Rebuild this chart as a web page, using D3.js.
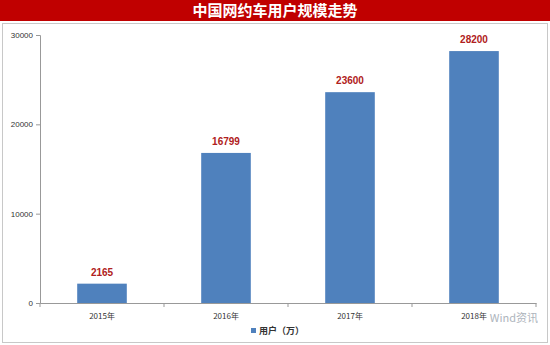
<!DOCTYPE html>
<html><head><meta charset="utf-8">
<script src="https://cdn.jsdelivr.net/npm/d3@7"></script>
<style>body{margin:0;background:#fff;}svg{display:block;}</style>
</head><body>
<script>
const title = "中国网约车用户规模走势";
const categories = ["2015年","2016年","2017年","2018年"];
const values = [2165, 16799, 23600, 28200];
const yTicks = [0, 10000, 20000, 30000];
const seriesName = "用户（万）";

const W = 550, H = 345;
const svg = d3.select("body").append("svg").attr("width", W).attr("height", H);

// title bar
svg.append("rect").attr("x",0).attr("y",0).attr("width",W).attr("height",21).attr("fill","#c00000");
svg.append("text").attr("x",W/2).attr("y",16).attr("text-anchor","middle")
  .attr("fill","#fff").attr("font-family","'Noto Sans CJK SC'").attr("font-weight","bold")
  .attr("font-size",15).text(title);

// chart border
svg.append("rect").attr("x",2.5).attr("y",23.5).attr("width",W-5).attr("height",H-26)
  .attr("fill","#fff").attr("stroke","#c8c8c8");

const x = d3.scaleBand().domain(categories).range([40, 536]).paddingInner(0.6).paddingOuter(0.3);
const y = d3.scaleLinear().domain([0, 30000]).range([303, 35]);

// y axis
const ya = svg.append("g").attr("transform","translate(40,0)")
  .call(d3.axisLeft(y).tickValues(yTicks).tickSize(4).tickFormat(d3.format("d")));
ya.selectAll("path,line").attr("stroke","#999");
ya.selectAll("text").attr("font-family","Arial, 'Liberation Sans'").attr("font-size",8).attr("fill","#333");

// bars
svg.selectAll(".bar").data(values).join("rect")
  .attr("x",(d,i)=>x(categories[i])).attr("width",x.bandwidth())
  .attr("y",d=>y(d)).attr("height",d=>y(0)-y(d)).attr("fill","#4f81bd");

// labels
svg.selectAll(".lbl").data(values).join("text")
  .attr("x",(d,i)=>x(categories[i])+x.bandwidth()/2).attr("y",d=>y(d)-8)
  .attr("text-anchor","middle").attr("fill","#b02020").attr("font-weight","bold")
  .attr("font-family","Arial, 'Liberation Sans'").attr("font-size",10).text(d=>d);

// x axis
const xs = d3.scaleBand().domain(categories).range([40,536]);
const xa = svg.append("g").attr("transform","translate(0,303)")
  .call(d3.axisBottom(xs).tickSize(0).tickPadding(10));
xa.select("path").attr("stroke","#999");
xa.selectAll("text").attr("font-family","'Noto Sans CJK SC'").attr("font-size",8).attr("fill","#333");
// x tick marks at band boundaries
const bounds = categories.map(c=>xs(c)).concat([536]);
svg.selectAll(".xt").data(bounds).join("line")
  .attr("x1",d=>d).attr("x2",d=>d).attr("y1",303).attr("y2",307).attr("stroke","#999");

// legend
const lg = svg.append("g");
lg.append("rect").attr("x",251).attr("y",328).attr("width",5).attr("height",5).attr("fill","#4f81bd");
lg.append("text").attr("x",259).attr("y",334).attr("font-family","'Noto Sans CJK SC'")
  .attr("font-weight","bold").attr("font-size",9).attr("fill","#333").text(seriesName);

// watermark
svg.append("text").attr("x",538).attr("y",322).attr("text-anchor","end")
  .attr("font-family","'Noto Sans CJK SC'").attr("font-size",11).attr("fill","#9aa3ad")
  .attr("opacity",0.8).text("Wind资讯");
</script>
</body></html>
